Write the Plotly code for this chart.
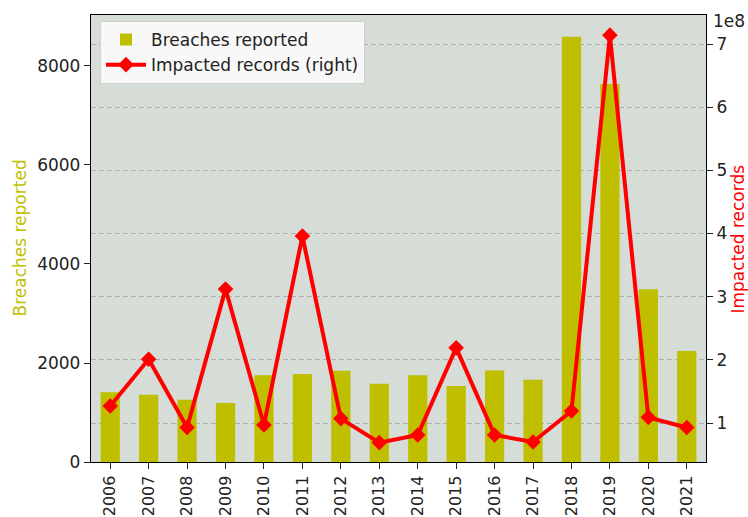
import plotly.graph_objects as go

years = [str(y) for y in range(2006, 2022)]
breaches = [1410, 1360, 1260, 1190, 1750, 1780, 1845, 1580, 1750, 1535, 1850, 1660, 8590, 7635, 3490, 2240]
records = [1.27e8, 2.01e8, 0.93e8, 3.12e8, 0.97e8, 3.96e8, 1.07e8, 0.69e8, 0.81e8, 2.19e8, 0.81e8, 0.70e8, 1.19e8, 7.14e8, 1.09e8, 0.93e8]
right_ticks = [1e8, 2e8, 3e8, 4e8, 5e8, 6e8, 7e8]
right_tick_text = ["1", "2", "3", "4", "5", "6", "7"]
left_ticks = [0, 2000, 4000, 6000, 8000]

font = "DejaVu Sans"
FS = 17
L, R, T, B = 91, 42, 15, 55
W, H = 748, 517
pw, ph = W - L - R, H - T - B

fig = go.Figure()
fig.add_trace(go.Bar(x=years, y=breaches, name="Breaches reported",
                     marker=dict(color="#bfbf00", line=dict(width=0)), width=0.5, yaxis="y"))
fig.add_trace(go.Scatter(x=years, y=records, name="Impacted records (right)", mode="lines+markers",
                         line=dict(color="#ff0000", width=4),
                         marker=dict(symbol="diamond", size=12, color="#ff0000"), yaxis="y2"))

axis_common = dict(showline=True, linecolor="#000", linewidth=1.3, ticks="outside", ticklen=6,
                   tickwidth=1.2, tickcolor="#222", automargin=False, zeroline=False)

fig.update_layout(
    width=W, height=H,
    margin=dict(l=L, r=R, t=T, b=B),
    paper_bgcolor="white", plot_bgcolor="#d6dcd6",
    font=dict(family=font, size=FS, color="#222"),
    showlegend=True,
    legend=dict(x=(100 - L) / pw, y=1 - (21 - T) / ph, xanchor="left", yanchor="top",
                bgcolor="rgba(255,255,255,0.8)", bordercolor="#d0d0d0", borderwidth=1,
                font=dict(size=FS, color="#222"), itemwidth=40, tracegroupgap=0),
    xaxis=dict(type="category", tickangle=-90, mirror=True, showgrid=False,
               range=[-0.5, 15.5], tickfont=dict(size=16), **axis_common),
    yaxis=dict(range=[0, 9030], tickvals=left_ticks, showgrid=False, **axis_common),
    yaxis2=dict(overlaying="y", side="right", range=[0.383e8, 7.459e8], tickvals=right_ticks,
                ticktext=right_tick_text, showgrid=True, gridcolor="#b0b0b0",
                griddash="5px,3px", gridwidth=1, **axis_common),
    annotations=[
        dict(text="1e8", xref="paper", yref="paper", x=(711 - L) / pw, y=1.0, xanchor="left",
             yanchor="middle", yshift=-6, showarrow=False, font=dict(size=FS, color="#222")),
        dict(text="Breaches reported", xref="paper", yref="paper", x=(19 - L) / pw, y=0.5,
             xanchor="center", yanchor="middle", textangle=-90, showarrow=False,
             font=dict(size=FS, color="#bfbf00")),
        dict(text="Impacted records", xref="paper", yref="paper", x=(737 - L) / pw, y=0.5,
             xanchor="center", yanchor="middle", textangle=-90, showarrow=False,
             font=dict(size=FS, color="#ff0000")),
    ],
)

fig.write_html("out.html", config={"displayModeBar": False},
               post_script="document.body.style.margin='0';document.body.style.overflow='hidden';")
